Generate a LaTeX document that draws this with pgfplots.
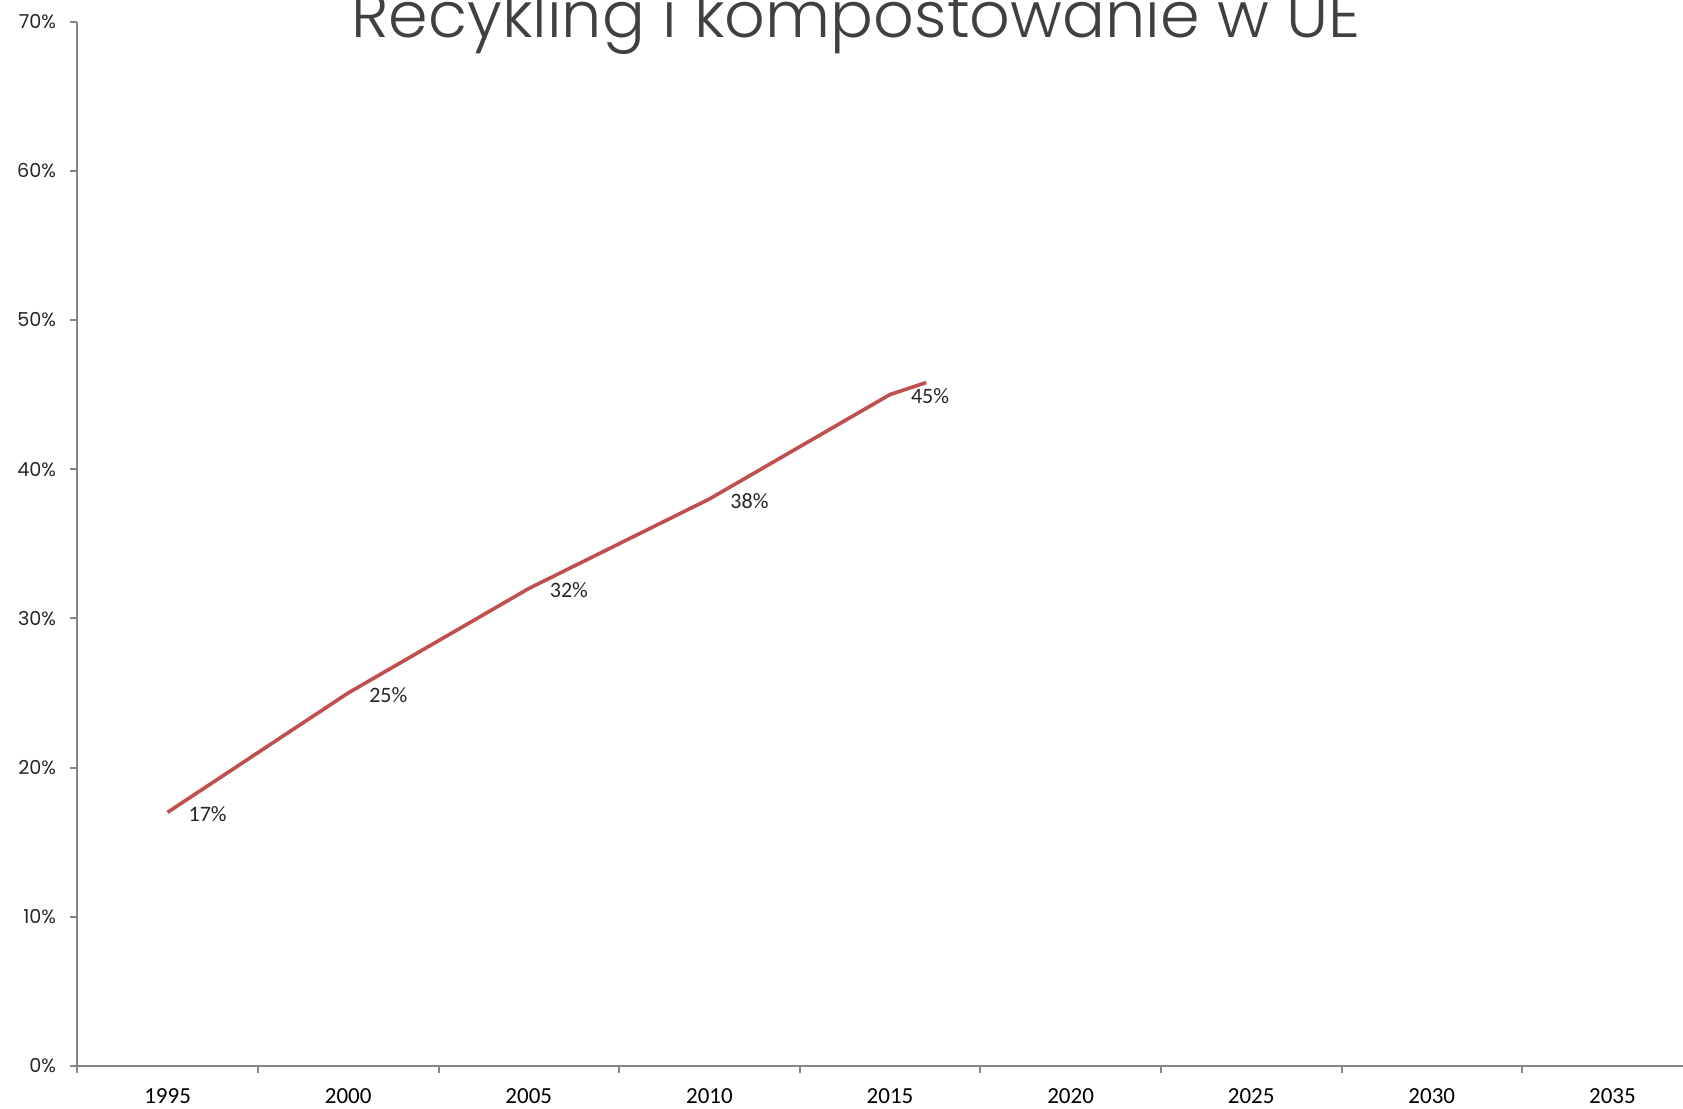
\documentclass[border=0pt]{standalone}
\usepackage{pgfplots}
\pgfplotsset{compat=1.18}
\usepackage{fontspec}
\setmainfont{Carlito}
\newfontfamily\titlefont{Poppins Light}
\newfontfamily\yfont{Poppins}
\definecolor{axisgray}{RGB}{134,134,134}
\definecolor{linered}{RGB}{192,80,77}
\definecolor{titlegray}{RGB}{64,64,64}
\definecolor{labelgray}{RGB}{38,38,38}
\begin{document}
\begin{tikzpicture}
\begin{axis}[
  at={(38.65pt,21.5pt)}, anchor=south west,
  scale only axis, width=812.7pt, height=522.25pt,
  xmin=1992.5, xmax=2037.5, ymin=0, ymax=70,
  axis x line*=bottom, axis y line*=left,
  axis line style={draw=axisgray, line width=1pt},
  tick style={draw=axisgray, line width=1pt},
  tick align=outside,
  ytick={0,10,20,30,40,50,60,70},
  yticklabels={0\%,10\%,20\%,30\%,40\%,50\%,60\%,70\%},
  yticklabel style={font=\yfont\fontsize{9.6}{10}\selectfont, text=labelgray, anchor=east, xshift=-3.5pt},
  major tick length=3.6pt,
  xtick={1992.5,1997.5,2002.5,2007.5,2012.5,2017.5,2022.5,2027.5,2032.5,2037.5},
  xticklabels={},
  extra x ticks={1995,2000,2005,2010,2015,2020,2025,2030,2035},
  extra x tick labels={1995,2000,2005,2010,2015,2020,2025,2030,2035},
  extra x tick style={major tick length=0pt, tick style={draw=none},
    xticklabel style={font=\fontsize{11.5}{12}\selectfont, text=black, anchor=north, yshift=-8pt}},
  clip=false,
]
\addplot[linered, line width=1.8pt, line join=round] coordinates {
  (1995,17) (2000,25) (2005,32) (2010,38) (2015,45) (2016,45.8)
};
\addplot[draw=none, mark=none, nodes near coords, point meta=explicit symbolic,
  every node near coord/.style={anchor=west, xshift=7pt, yshift=-1pt, font=\fontsize{11}{12}\selectfont, text=labelgray}]
  coordinates {
  (1995,17)[17\%] (2000,25)[25\%] (2005,32)[32\%] (2010,38)[38\%] (2015,45)[45\%]
};
\end{axis}
\node[anchor=base, text=titlegray, font=\titlefont\fontsize{31.8}{33}\selectfont, inner sep=0pt] at (428pt,535.7pt) {Recykling i kompostowanie w UE};
\pgfresetboundingbox
\useasboundingbox (0,0) rectangle (841.5pt,554.5pt);
\end{tikzpicture}
\end{document}
